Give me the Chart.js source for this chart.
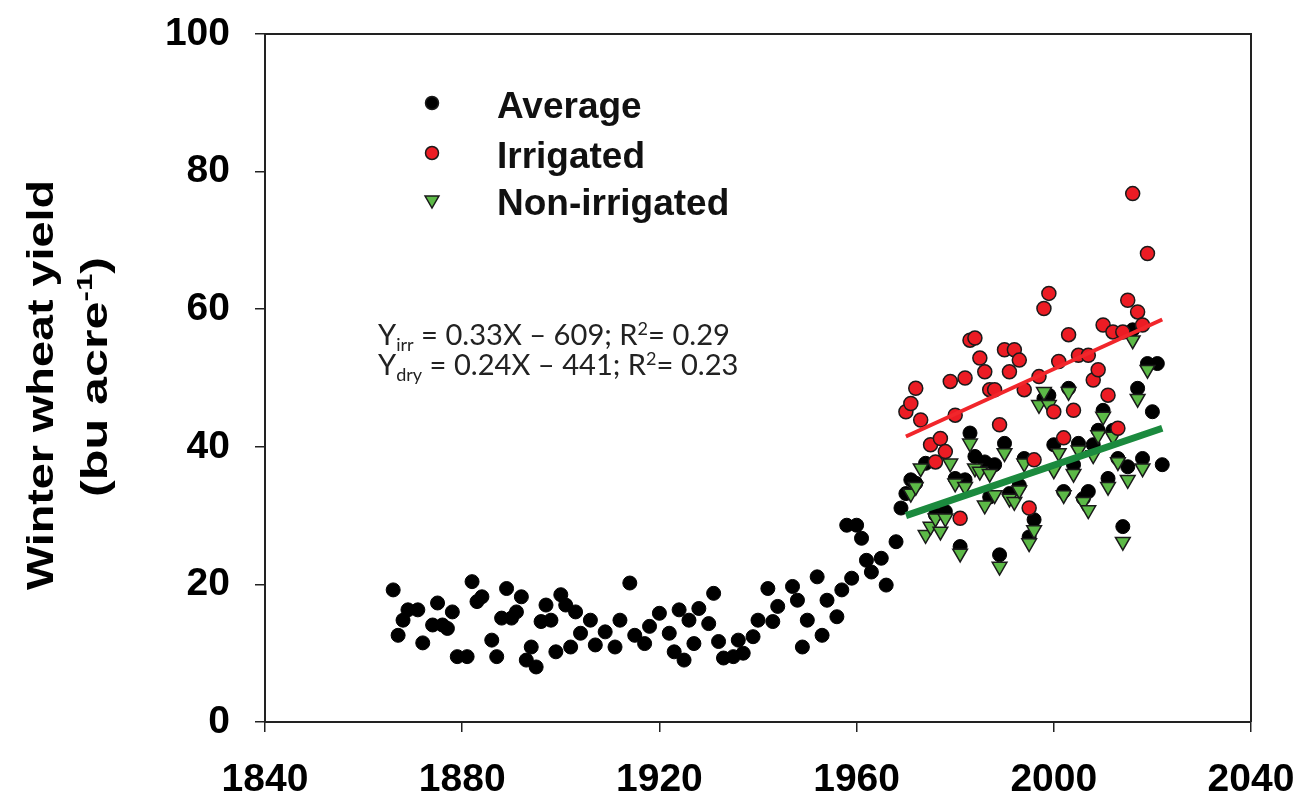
<!DOCTYPE html>
<html>
<head>
<meta charset="utf-8">
<style>
  html, body { margin: 0; padding: 0; background: #fff; }
</style>
</head>
<body>
<canvas id="wheat" width="1316" height="798"></canvas>
<script src="https://cdn.jsdelivr.net/npm/chart.js"></script>
<script>
// Kansas-style winter wheat yield
const avgYears = [1866, 1867, 1868, 1869, 1871, 1872, 1874, 1875, 1876, 1877, 1878, 1879, 1881, 1882, 1883, 1884,
  1886, 1887, 1888, 1889, 1890, 1891, 1892, 1893, 1894, 1895, 1896, 1897, 1898, 1899, 1900, 1901, 1902, 1903, 1904,
  1906, 1907, 1909, 1911, 1912, 1914, 1915, 1917, 1918, 1920, 1922, 1923, 1924, 1925, 1926, 1927, 1928, 1930, 1931,
  1932, 1933, 1935, 1936, 1937, 1939, 1940, 1942, 1943, 1944, 1947, 1948, 1949, 1950, 1952, 1953, 1954, 1956, 1957,
  1958, 1959, 1960, 1961, 1962, 1963, 1965, 1966, 1968, 1969, 1970, 1971, 1972, 1974, 1976, 1978, 1980, 1981, 1982,
  1983, 1984, 1986, 1987, 1988, 1989, 1990, 1991, 1993, 1994, 1995, 1996, 1998, 1999, 2000, 2002, 2003, 2004, 2005,
  2006, 2007, 2008, 2009, 2010, 2011, 2012, 2013, 2014, 2015, 2016, 2017, 2018, 2019, 2020, 2021, 2022];
const avgYield = [19.2, 12.6, 14.8, 16.3, 16.3, 11.5, 14.1, 17.3, 14.1, 13.6, 16.0, 9.5, 9.5, 20.4, 17.5, 18.2,
  11.9, 9.5, 15.1, 19.4, 15.1, 16.0, 18.2, 9.0, 10.9, 8.0, 14.6, 17.0, 14.8, 10.2, 18.5, 17.0, 10.9, 16.0, 12.9,
  14.8, 11.2, 13.1, 10.9, 14.8, 20.2, 12.6, 11.4, 13.9, 15.8, 12.9, 10.2, 16.3, 9.0, 14.8, 11.4, 16.5, 14.3, 18.7,
  11.7, 9.3, 9.5, 11.9, 10.0, 12.4, 14.8, 19.4, 14.6, 16.8, 19.7, 17.7, 10.9, 14.8, 21.1, 12.6, 17.7, 15.3, 19.2,
  28.6, 20.9, 28.6, 26.7, 23.5, 21.8, 23.8, 19.9, 26.2, 31.1, 33.2, 35.2, 34.7, 37.6, 30.1, 30.6, 35.4, 25.5, 35.2,
  42.0, 38.6, 37.8, 32.7, 37.4, 24.3, 40.5, 33.2, 34.4, 38.3, 26.9, 29.4, 47.0, 47.5, 40.3, 33.5, 48.5, 37.4, 40.5,
  32.5, 33.5, 40.3, 42.4, 45.3, 35.4, 42.4, 38.3, 28.4, 37.1, 57.0, 48.5, 38.3, 52.1, 45.1, 52.1, 37.4];

const irrYears = [1970, 1971, 1972, 1973, 1975, 1976, 1977, 1978, 1979, 1980, 1981, 1982, 1983, 1984, 1985, 1986,
  1987, 1988, 1989, 1990, 1991, 1992, 1993, 1994, 1995, 1996, 1997, 1998, 1999, 2000, 2001, 2002, 2003, 2004, 2005,
  2007, 2008, 2009, 2010, 2011, 2012, 2013, 2014, 2015, 2016, 2017, 2018, 2019];
const irrYield = [45.1, 46.3, 48.5, 43.9, 40.3, 37.8, 41.2, 39.3, 49.5, 44.6, 29.6, 50.0, 55.5, 55.8, 52.9, 50.9,
  48.3, 48.3, 43.2, 54.1, 50.9, 54.1, 52.6, 48.3, 31.1, 38.1, 50.2, 60.1, 62.3, 45.1, 52.4, 41.3, 56.3, 45.3, 53.3,
  53.3, 49.7, 51.2, 57.7, 47.5, 56.7, 42.7, 56.7, 61.3, 76.8, 59.6, 57.7, 68.1];

const dryYears = [1971, 1972, 1973, 1974, 1975, 1976, 1977, 1978, 1979, 1980, 1981, 1982, 1983, 1984, 1985, 1986,
  1987, 1988, 1989, 1990, 1991, 1992, 1993, 1994, 1995, 1996, 1997, 1998, 1999, 2000, 2001, 2002, 2003, 2004, 2005,
  2006, 2007, 2008, 2009, 2010, 2011, 2012, 2013, 2014, 2015, 2016, 2017, 2018, 2019];
const dryYield = [33.2, 34.2, 36.9, 27.2, 28.4, 29.6, 27.7, 29.6, 37.6, 34.7, 24.5, 34.2, 40.5, 36.9, 36.4, 31.5,
  36.1, 33.0, 22.6, 39.1, 32.5, 32.0, 33.7, 37.6, 26.0, 27.9, 46.1, 48.0, 46.1, 36.6, 39.1, 33.0, 48.0, 36.1, 39.5,
  32.0, 30.8, 38.8, 41.7, 44.4, 34.2, 41.5, 37.8, 26.2, 35.2, 55.5, 47.0, 36.9, 51.2];

// fitted lines, endpoints as drawn
const trendYears = [1970, 2022];
const irrTrend = [41.5, 58.5];
const dryTrend = [30.0, 42.7];

const seriesNames = ['Average', 'Irrigated', 'Non-irrigated'];

const pts = (xs, ys) => xs.map((x, i) => ({ x: x, y: ys[i] }));

const BOLD = 'Liberation Sans, Arial, sans-serif';
const EQ = 'Lato, "Open Sans", sans-serif';

// draw a run of text pieces [text, sizeFactor, yShift]
function runWidth(ctx, runs, size, weight, fam) {
  let w = 0;
  runs.forEach(r => {
    ctx.font = weight + ' ' + (size * r[1]) + 'px ' + fam;
    w += ctx.measureText(r[0]).width;
  });
  return w;
}
function drawRuns(ctx, x, y, runs, size, weight, fam) {
  runs.forEach(r => {
    ctx.font = weight + ' ' + (size * r[1]) + 'px ' + fam;
    ctx.fillText(r[0], x, y + r[2] * size);
    x += ctx.measureText(r[0]).width;
  });
}

function marker(ctx, style, x, y) {
  ctx.save();
  ctx.lineWidth = 1.5;
  ctx.strokeStyle = '#1a1a1a';
  ctx.beginPath();
  if (style.shape === 'tri') {
    const r = style.r;
    ctx.moveTo(x - r * 0.866, y - r * 0.5);
    ctx.lineTo(x + r * 0.866, y - r * 0.5);
    ctx.lineTo(x, y + r);
    ctx.closePath();
  } else {
    ctx.arc(x, y, style.r, 0, Math.PI * 2);
  }
  ctx.fillStyle = style.fill;
  ctx.fill();
  ctx.stroke();
  ctx.restore();
}

const decor = {
  id: 'decor',
  afterDraw(chart) {
    const ctx = chart.ctx;
    const a = chart.chartArea;
    ctx.save();

    // top and right frame
    ctx.strokeStyle = '#222';
    ctx.lineWidth = 2;
    ctx.beginPath();
    ctx.moveTo(a.left, a.top);
    ctx.lineTo(a.right, a.top);
    ctx.lineTo(a.right, a.bottom);
    ctx.stroke();

    // legend
    const legStyles = [
      { shape: 'c', r: 6.5, fill: '#000' },
      { shape: 'c', r: 6.5, fill: '#ec1c24' },
      { shape: 'tri', r: 8, fill: '#5cb947' }
    ];
    const legY = [103, 153, 200];
    ctx.textAlign = 'left';
    ctx.textBaseline = 'alphabetic';
    seriesNames.forEach((name, i) => {
      marker(ctx, legStyles[i], 432, legY[i]);
      ctx.fillStyle = '#111';
      ctx.font = 'bold 37px ' + BOLD;
      ctx.fillText(name, 497, legY[i] + 15);
    });

    // regression equations
    const eq1 = [['Y', 1, 0], ['irr', 0.62, 0.2], [' = 0.33X \u2013 609; R', 1, 0], ['2', 0.62, -0.35], ['= 0.29', 1, 0]];
    const eq2 = [['Y', 1, 0], ['dry', 0.62, 0.2], [' = 0.24X \u2013 441; R', 1, 0], ['2', 0.62, -0.35], ['= 0.23', 1, 0]];
    let eqSize = 30;
    eqSize = eqSize * 352 / runWidth(ctx, eq1, eqSize, 'normal', EQ);
    ctx.fillStyle = '#222';
    drawRuns(ctx, 378, 345, eq1, eqSize, 'normal', EQ);
    drawRuns(ctx, 378, 375, eq2, eqSize, 'normal', EQ);

    // y axis title, two rotated lines
    const t1 = [['Winter wheat yield', 1, 0]];
    const t2 = [['(bu acre', 1, 0], ['-1', 0.62, -0.42], [')', 1, 0]];
    [[t1, 53, 385, 410], [t2, 107, 377, 240]].forEach(l => {
      const w = runWidth(ctx, l[0], 36, 'bold', BOLD);
      const sx = l[3] / w;
      ctx.save();
      ctx.translate(l[1], l[2]);
      ctx.rotate(-Math.PI / 2);
      ctx.scale(sx, 1);
      ctx.fillStyle = '#000';
      drawRuns(ctx, -w / 2, 0, l[0], 36, 'bold', BOLD);
      ctx.restore();
    });

    ctx.restore();
  }
};

new Chart(document.getElementById('wheat'), {
  type: 'scatter',
  data: {
    datasets: [
      {
        type: 'line', label: 'irr fit', data: pts(trendYears, irrTrend),
        borderColor: '#f1262b', borderWidth: 4, pointRadius: 0, order: 0
      },
      {
        type: 'line', label: 'dry fit', data: pts(trendYears, dryTrend),
        borderColor: '#1b8a3e', borderWidth: 7, pointRadius: 0, order: 0
      },
      {
        label: seriesNames[1], data: pts(irrYears, irrYield),
        backgroundColor: '#ec1c24', borderColor: '#1a1a1a', borderWidth: 1.5,
        pointRadius: 7, order: 1
      },
      {
        label: seriesNames[2], data: pts(dryYears, dryYield),
        pointStyle: 'triangle', rotation: 180,
        backgroundColor: '#5cb947', borderColor: '#1a1a1a', borderWidth: 1.5,
        pointRadius: 8.5, order: 2
      },
      {
        label: seriesNames[0], data: pts(avgYears, avgYield),
        backgroundColor: '#000', borderColor: '#000', borderWidth: 1,
        pointRadius: 7, order: 3
      }
    ]
  },
  options: {
    responsive: false,
    animation: false,
    layout: { padding: { top: 34, right: 65, left: 0, bottom: 0 } },
    plugins: {
      legend: { display: false },
      tooltip: { enabled: false }
    },
    scales: {
      x: {
        type: 'linear', min: 1840, max: 2040,
        ticks: {
          stepSize: 40, color: '#000', padding: 25, maxRotation: 0,
          font: { family: BOLD, weight: 'bold', size: 39 },
          callback: v => String(v)
        },
        grid: { drawOnChartArea: false, tickLength: 10, color: '#222', lineWidth: 1.5 },
        border: { color: '#222', width: 2 },
        afterFit: s => { s.height = 76; s.paddingLeft = 0; s.paddingRight = 0; }
      },
      y: {
        min: 0, max: 100,
        ticks: {
          stepSize: 20, color: '#000', padding: 25,
          font: { family: BOLD, weight: 'bold', size: 39 }
        },
        grid: { drawOnChartArea: false, tickLength: 10, color: '#222', lineWidth: 1.5 },
        border: { color: '#222', width: 2 },
        afterFit: s => { s.width = 265; s.paddingTop = 0; s.paddingBottom = 0; }
      }
    }
  },
  plugins: [decor]
});
</script>
</body>
</html>
